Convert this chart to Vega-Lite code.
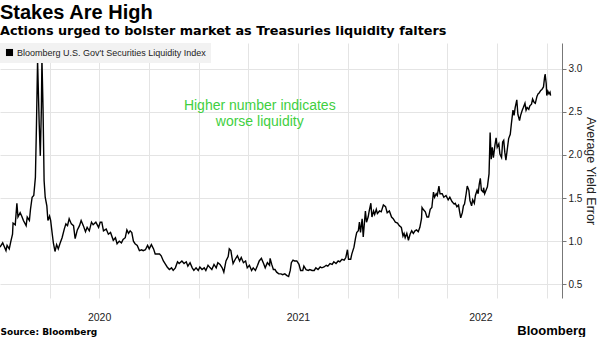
{
  "$schema": "https://vega.github.io/schema/vega-lite/v6.json",
  "background": "white",
  "padding": {"left": 0, "top": 3, "right": 0, "bottom": 0},
  "title": {
    "text": "Stakes Are High",
    "subtitle": "Actions urged to bolster market as Treasuries liquidity falters",
    "anchor": "start",
    "font": "Liberation Sans",
    "fontSize": 20,
    "fontWeight": "bold",
    "color": "#000",
    "subtitleFont": "DejaVu Sans",
    "subtitleFontSize": 12.8,
    "subtitleFontWeight": "bold",
    "subtitleColor": "#000",
    "subtitlePadding": 2,
    "offset": 5
  },
  "spacing": 0,
  "vconcat": [
    {
      "width": 562,
      "height": 255,
      "title": {
        "text": "Bloomberg",
        "orient": "bottom",
        "anchor": "end",
        "font": "Liberation Sans",
        "fontSize": 13,
        "fontWeight": "bold",
        "color": "#000",
        "offset": 0,
        "dx": -11,
        "dy": -12
      },
      "data": {
        "values": [
          {"date": "2020-01-01", "value": 0.93}, {"date": "2020-01-06", "value": 0.98}, {"date": "2020-01-08", "value": 0.95}, {"date": "2020-01-12", "value": 0.89}, {"date": "2020-01-14", "value": 0.95}, {"date": "2020-01-18", "value": 0.91}, {"date": "2020-01-21", "value": 1.0}, {"date": "2020-01-24", "value": 1.08}, {"date": "2020-01-25", "value": 1.21}, {"date": "2020-01-29", "value": 1.19},
          {"date": "2020-02-01", "value": 1.44}, {"date": "2020-02-03", "value": 1.28}, {"date": "2020-02-07", "value": 1.33}, {"date": "2020-02-10", "value": 1.29}, {"date": "2020-02-13", "value": 1.24}, {"date": "2020-02-18", "value": 1.18}, {"date": "2020-02-20", "value": 1.28}, {"date": "2020-02-24", "value": 1.24}, {"date": "2020-02-26", "value": 1.37}, {"date": "2020-02-29", "value": 1.51},
          {"date": "2020-03-03", "value": 1.53}, {"date": "2020-03-06", "value": 1.74}, {"date": "2020-03-08", "value": 2.36}, {"date": "2020-03-10", "value": 3.1}, {"date": "2020-03-13", "value": 2.36}, {"date": "2020-03-15", "value": 1.99}, {"date": "2020-03-17", "value": 2.55}, {"date": "2020-03-18", "value": 3.12}, {"date": "2020-03-20", "value": 2.55}, {"date": "2020-03-22", "value": 1.7}, {"date": "2020-03-24", "value": 1.51}, {"date": "2020-03-27", "value": 1.41}, {"date": "2020-03-29", "value": 1.24},
          {"date": "2020-04-01", "value": 1.29}, {"date": "2020-04-03", "value": 1.24}, {"date": "2020-04-06", "value": 1.08}, {"date": "2020-04-08", "value": 0.98}, {"date": "2020-04-11", "value": 0.88}, {"date": "2020-04-14", "value": 0.96}, {"date": "2020-04-17", "value": 0.91}, {"date": "2020-04-20", "value": 0.97}, {"date": "2020-04-24", "value": 1.04}, {"date": "2020-04-28", "value": 1.14},
          {"date": "2020-05-01", "value": 1.2}, {"date": "2020-05-04", "value": 1.18}, {"date": "2020-05-07", "value": 1.26}, {"date": "2020-05-11", "value": 1.2}, {"date": "2020-05-15", "value": 1.18}, {"date": "2020-05-18", "value": 1.03}, {"date": "2020-05-22", "value": 1.13}, {"date": "2020-05-26", "value": 1.18}, {"date": "2020-05-29", "value": 1.24},
          {"date": "2020-06-02", "value": 1.18}, {"date": "2020-06-06", "value": 1.11}, {"date": "2020-06-09", "value": 1.16}, {"date": "2020-06-13", "value": 1.12}, {"date": "2020-06-17", "value": 1.22}, {"date": "2020-06-20", "value": 1.19}, {"date": "2020-06-25", "value": 1.22}, {"date": "2020-06-30", "value": 1.16},
          {"date": "2020-07-03", "value": 1.22}, {"date": "2020-07-06", "value": 1.22}, {"date": "2020-07-09", "value": 1.12}, {"date": "2020-07-14", "value": 1.14}, {"date": "2020-07-18", "value": 1.08}, {"date": "2020-07-22", "value": 1.1}, {"date": "2020-07-27", "value": 1.01}, {"date": "2020-07-31", "value": 1.04},
          {"date": "2020-08-03", "value": 0.97}, {"date": "2020-08-07", "value": 1.0}, {"date": "2020-08-11", "value": 0.98}, {"date": "2020-08-14", "value": 1.02}, {"date": "2020-08-18", "value": 1.04}, {"date": "2020-08-21", "value": 1.13}, {"date": "2020-08-24", "value": 1.09}, {"date": "2020-08-27", "value": 1.12}, {"date": "2020-08-30", "value": 1.1},
          {"date": "2020-09-02", "value": 1.0}, {"date": "2020-09-05", "value": 0.97}, {"date": "2020-09-09", "value": 0.95}, {"date": "2020-09-13", "value": 0.89}, {"date": "2020-09-17", "value": 0.9}, {"date": "2020-09-20", "value": 0.89}, {"date": "2020-09-24", "value": 0.9}, {"date": "2020-09-28", "value": 0.95},
          {"date": "2020-10-01", "value": 0.91}, {"date": "2020-10-05", "value": 0.96}, {"date": "2020-10-09", "value": 0.91}, {"date": "2020-10-12", "value": 0.85}, {"date": "2020-10-16", "value": 0.85}, {"date": "2020-10-20", "value": 0.85}, {"date": "2020-10-23", "value": 0.83}, {"date": "2020-10-27", "value": 0.77}, {"date": "2020-10-31", "value": 0.73},
          {"date": "2020-11-03", "value": 0.7}, {"date": "2020-11-07", "value": 0.67}, {"date": "2020-11-11", "value": 0.69}, {"date": "2020-11-14", "value": 0.66}, {"date": "2020-11-18", "value": 0.69}, {"date": "2020-11-22", "value": 0.76}, {"date": "2020-11-25", "value": 0.74}, {"date": "2020-11-30", "value": 0.77},
          {"date": "2020-12-04", "value": 0.74}, {"date": "2020-12-08", "value": 0.76}, {"date": "2020-12-11", "value": 0.71}, {"date": "2020-12-15", "value": 0.75}, {"date": "2020-12-19", "value": 0.69}, {"date": "2020-12-22", "value": 0.66}, {"date": "2020-12-26", "value": 0.69}, {"date": "2020-12-30", "value": 0.66},
          {"date": "2021-01-02", "value": 0.7}, {"date": "2021-01-06", "value": 0.67}, {"date": "2021-01-10", "value": 0.69}, {"date": "2021-01-13", "value": 0.66}, {"date": "2021-01-17", "value": 0.72}, {"date": "2021-01-21", "value": 0.69}, {"date": "2021-01-24", "value": 0.67}, {"date": "2021-01-28", "value": 0.73},
          {"date": "2021-02-01", "value": 0.69}, {"date": "2021-02-04", "value": 0.75}, {"date": "2021-02-08", "value": 0.73}, {"date": "2021-02-12", "value": 0.69}, {"date": "2021-02-15", "value": 0.64}, {"date": "2021-02-19", "value": 0.77}, {"date": "2021-02-23", "value": 0.82}, {"date": "2021-02-25", "value": 0.91}, {"date": "2021-02-28", "value": 0.89},
          {"date": "2021-03-02", "value": 0.81}, {"date": "2021-03-04", "value": 0.74}, {"date": "2021-03-08", "value": 0.79}, {"date": "2021-03-12", "value": 0.83}, {"date": "2021-03-16", "value": 0.77}, {"date": "2021-03-19", "value": 0.81}, {"date": "2021-03-23", "value": 0.75}, {"date": "2021-03-27", "value": 0.77}, {"date": "2021-03-30", "value": 0.69},
          {"date": "2021-04-03", "value": 0.72}, {"date": "2021-04-07", "value": 0.66}, {"date": "2021-04-10", "value": 0.69}, {"date": "2021-04-14", "value": 0.66}, {"date": "2021-04-18", "value": 0.72}, {"date": "2021-04-21", "value": 0.77}, {"date": "2021-04-25", "value": 0.8}, {"date": "2021-04-29", "value": 0.74},
          {"date": "2021-05-02", "value": 0.69}, {"date": "2021-05-06", "value": 0.75}, {"date": "2021-05-10", "value": 0.72}, {"date": "2021-05-11", "value": 0.8}, {"date": "2021-05-14", "value": 0.73}, {"date": "2021-05-17", "value": 0.67}, {"date": "2021-05-20", "value": 0.67}, {"date": "2021-05-23", "value": 0.64}, {"date": "2021-05-27", "value": 0.62}, {"date": "2021-05-31", "value": 0.62},
          {"date": "2021-06-03", "value": 0.61}, {"date": "2021-06-07", "value": 0.62}, {"date": "2021-06-11", "value": 0.6}, {"date": "2021-06-14", "value": 0.59}, {"date": "2021-06-17", "value": 0.66}, {"date": "2021-06-19", "value": 0.75}, {"date": "2021-06-22", "value": 0.78}, {"date": "2021-06-25", "value": 0.77}, {"date": "2021-06-29", "value": 0.77},
          {"date": "2021-07-03", "value": 0.73}, {"date": "2021-07-06", "value": 0.66}, {"date": "2021-07-10", "value": 0.66}, {"date": "2021-07-12", "value": 0.71}, {"date": "2021-07-16", "value": 0.67}, {"date": "2021-07-20", "value": 0.66}, {"date": "2021-07-23", "value": 0.67}, {"date": "2021-07-27", "value": 0.66}, {"date": "2021-07-31", "value": 0.66},
          {"date": "2021-08-03", "value": 0.69}, {"date": "2021-08-07", "value": 0.67}, {"date": "2021-08-11", "value": 0.7}, {"date": "2021-08-14", "value": 0.69}, {"date": "2021-08-18", "value": 0.7}, {"date": "2021-08-22", "value": 0.72}, {"date": "2021-08-25", "value": 0.71}, {"date": "2021-08-29", "value": 0.74},
          {"date": "2021-09-02", "value": 0.73}, {"date": "2021-09-05", "value": 0.76}, {"date": "2021-09-09", "value": 0.74}, {"date": "2021-09-13", "value": 0.77}, {"date": "2021-09-16", "value": 0.76}, {"date": "2021-09-20", "value": 0.79}, {"date": "2021-09-24", "value": 0.78}, {"date": "2021-09-27", "value": 0.81}, {"date": "2021-09-30", "value": 0.9},
          {"date": "2021-10-02", "value": 0.79}, {"date": "2021-10-06", "value": 0.79}, {"date": "2021-10-08", "value": 0.85}, {"date": "2021-10-12", "value": 0.93}, {"date": "2021-10-15", "value": 1.04}, {"date": "2021-10-17", "value": 1.1}, {"date": "2021-10-20", "value": 1.12}, {"date": "2021-10-22", "value": 1.22}, {"date": "2021-10-24", "value": 1.1}, {"date": "2021-10-27", "value": 1.26}, {"date": "2021-10-29", "value": 1.05}, {"date": "2021-10-31", "value": 1.2},
          {"date": "2021-11-02", "value": 1.35}, {"date": "2021-11-04", "value": 1.22}, {"date": "2021-11-07", "value": 1.28}, {"date": "2021-11-09", "value": 1.35}, {"date": "2021-11-12", "value": 1.44}, {"date": "2021-11-14", "value": 1.28}, {"date": "2021-11-17", "value": 1.35}, {"date": "2021-11-19", "value": 1.31}, {"date": "2021-11-22", "value": 1.37}, {"date": "2021-11-24", "value": 1.32}, {"date": "2021-11-28", "value": 1.35},
          {"date": "2021-12-01", "value": 1.34}, {"date": "2021-12-05", "value": 1.42}, {"date": "2021-12-09", "value": 1.4}, {"date": "2021-12-12", "value": 1.33}, {"date": "2021-12-16", "value": 1.35}, {"date": "2021-12-20", "value": 1.28}, {"date": "2021-12-23", "value": 1.26}, {"date": "2021-12-27", "value": 1.22}, {"date": "2021-12-31", "value": 1.21},
          {"date": "2022-01-03", "value": 1.18}, {"date": "2022-01-07", "value": 1.16}, {"date": "2022-01-10", "value": 1.06}, {"date": "2022-01-12", "value": 1.09}, {"date": "2022-01-14", "value": 1.04}, {"date": "2022-01-17", "value": 1.09}, {"date": "2022-01-20", "value": 1.01}, {"date": "2022-01-23", "value": 1.08}, {"date": "2022-01-26", "value": 1.12}, {"date": "2022-01-29", "value": 1.09},
          {"date": "2022-02-01", "value": 1.12}, {"date": "2022-02-04", "value": 1.13}, {"date": "2022-02-07", "value": 1.11}, {"date": "2022-02-10", "value": 1.16}, {"date": "2022-02-13", "value": 1.26}, {"date": "2022-02-14", "value": 1.39}, {"date": "2022-02-16", "value": 1.37}, {"date": "2022-02-20", "value": 1.34}, {"date": "2022-02-23", "value": 1.28}, {"date": "2022-02-26", "value": 1.28},
          {"date": "2022-03-01", "value": 1.37}, {"date": "2022-03-04", "value": 1.39}, {"date": "2022-03-07", "value": 1.57}, {"date": "2022-03-09", "value": 1.51}, {"date": "2022-03-12", "value": 1.55}, {"date": "2022-03-14", "value": 1.53}, {"date": "2022-03-17", "value": 1.64}, {"date": "2022-03-19", "value": 1.55}, {"date": "2022-03-23", "value": 1.55}, {"date": "2022-03-26", "value": 1.51}, {"date": "2022-03-30", "value": 1.53},
          {"date": "2022-04-03", "value": 1.48}, {"date": "2022-04-06", "value": 1.51}, {"date": "2022-04-10", "value": 1.46}, {"date": "2022-04-14", "value": 1.43}, {"date": "2022-04-16", "value": 1.44}, {"date": "2022-04-19", "value": 1.4}, {"date": "2022-04-22", "value": 1.42}, {"date": "2022-04-24", "value": 1.34}, {"date": "2022-04-26", "value": 1.27}, {"date": "2022-04-29", "value": 1.33},
          {"date": "2022-05-01", "value": 1.41}, {"date": "2022-05-03", "value": 1.43}, {"date": "2022-05-06", "value": 1.55}, {"date": "2022-05-08", "value": 1.64}, {"date": "2022-05-11", "value": 1.59}, {"date": "2022-05-13", "value": 1.47}, {"date": "2022-05-16", "value": 1.41}, {"date": "2022-05-18", "value": 1.48}, {"date": "2022-05-21", "value": 1.44}, {"date": "2022-05-23", "value": 1.53}, {"date": "2022-05-26", "value": 1.59}, {"date": "2022-05-28", "value": 1.55}, {"date": "2022-05-30", "value": 1.66},
          {"date": "2022-06-01", "value": 1.73}, {"date": "2022-06-03", "value": 1.59}, {"date": "2022-06-06", "value": 1.57}, {"date": "2022-06-07", "value": 1.62}, {"date": "2022-06-09", "value": 1.55}, {"date": "2022-06-12", "value": 1.6}, {"date": "2022-06-14", "value": 1.63}, {"date": "2022-06-17", "value": 1.78}, {"date": "2022-06-18", "value": 2.01}, {"date": "2022-06-19", "value": 2.26}, {"date": "2022-06-21", "value": 1.95}, {"date": "2022-06-23", "value": 2.09}, {"date": "2022-06-25", "value": 1.97}, {"date": "2022-06-28", "value": 2.12}, {"date": "2022-06-30", "value": 2.2},
          {"date": "2022-07-02", "value": 2.09}, {"date": "2022-07-05", "value": 2.13}, {"date": "2022-07-07", "value": 2.01}, {"date": "2022-07-10", "value": 1.97}, {"date": "2022-07-12", "value": 2.15}, {"date": "2022-07-14", "value": 2.17}, {"date": "2022-07-16", "value": 2.03}, {"date": "2022-07-18", "value": 1.94}, {"date": "2022-07-21", "value": 2.09}, {"date": "2022-07-23", "value": 2.19}, {"date": "2022-07-26", "value": 2.24}, {"date": "2022-07-28", "value": 2.36}, {"date": "2022-07-31", "value": 2.52},
          {"date": "2022-08-02", "value": 2.46}, {"date": "2022-08-04", "value": 2.55}, {"date": "2022-08-07", "value": 2.64}, {"date": "2022-08-09", "value": 2.47}, {"date": "2022-08-12", "value": 2.4}, {"date": "2022-08-14", "value": 2.46}, {"date": "2022-08-17", "value": 2.52}, {"date": "2022-08-19", "value": 2.55}, {"date": "2022-08-22", "value": 2.6}, {"date": "2022-08-24", "value": 2.52}, {"date": "2022-08-26", "value": 2.55}, {"date": "2022-08-29", "value": 2.53}, {"date": "2022-08-31", "value": 2.57},
          {"date": "2022-09-03", "value": 2.59}, {"date": "2022-09-05", "value": 2.65}, {"date": "2022-09-08", "value": 2.61}, {"date": "2022-09-10", "value": 2.6}, {"date": "2022-09-13", "value": 2.68}, {"date": "2022-09-15", "value": 2.71}, {"date": "2022-09-17", "value": 2.72}, {"date": "2022-09-20", "value": 2.75}, {"date": "2022-09-22", "value": 2.76}, {"date": "2022-09-25", "value": 2.79}, {"date": "2022-09-27", "value": 2.9}, {"date": "2022-09-28", "value": 2.94}, {"date": "2022-09-30", "value": 2.83},
          {"date": "2022-10-01", "value": 2.69}, {"date": "2022-10-03", "value": 2.74}, {"date": "2022-10-05", "value": 2.71}, {"date": "2022-10-07", "value": 2.73}, {"date": "2022-10-08", "value": 2.69}
        ]
      },
      "layer": [
        {
          "mark": {"type": "line", "color": "#000", "strokeWidth": 1.4, "clip": true},
          "encoding": {
            "x": {
              "field": "date",
              "type": "temporal",
              "scale": {
                "type": "utc",
                "domain": [
                  {"year": 2020, "month": 1, "date": 1, "utc": true},
                  {"year": 2022, "month": 10, "date": 29, "utc": true}
                ],
                "nice": false
              },
              "axis": {
                "title": "Source: Bloomberg",
                "titleAnchor": "start",
                "titleAlign": "left",
                "titleFont": "DejaVu Sans",
                "titleFontSize": 9,
                "titleFontWeight": "bold",
                "titleColor": "#000",
                "titlePadding": 5,
                "values": [
                  {"year": 2020, "month": 4, "date": 1, "utc": true},
                  {"year": 2020, "month": 7, "date": 1, "utc": true},
                  {"year": 2020, "month": 10, "date": 1, "utc": true},
                  {"year": 2021, "month": 1, "date": 1, "utc": true},
                  {"year": 2021, "month": 4, "date": 1, "utc": true},
                  {"year": 2021, "month": 7, "date": 1, "utc": true},
                  {"year": 2021, "month": 10, "date": 1, "utc": true},
                  {"year": 2022, "month": 1, "date": 1, "utc": true},
                  {"year": 2022, "month": 4, "date": 1, "utc": true},
                  {"year": 2022, "month": 6, "date": 1, "utc": true},
                  {"year": 2022, "month": 7, "date": 1, "utc": true},
                  {"year": 2022, "month": 10, "date": 1, "utc": true}
                ],
                "labelExpr": "(utcmonth(datum.value) == 6 && utcyear(datum.value) < 2022) || utcmonth(datum.value) == 5 ? utcFormat(datum.value, '%Y') : ''",
                "grid": true,
                "gridColor": "#e4e4e4",
                "gridOpacity": {"condition": {"test": "utcmonth(datum.value) == 5", "value": 0}, "value": 1},
                "ticks": false,
                "domain": false,
                "labelPadding": 14,
                "labelFont": "Liberation Sans",
                "labelFontSize": 10.5,
                "labelColor": "#222",
                "labelOverlap": false,
                "labelFlush": false
              }
            },
            "y": {
              "field": "value",
              "type": "quantitative",
              "scale": {"domain": [0.34, 3.3], "nice": false, "zero": false},
              "axis": {
                "orient": "right",
                "values": [0.5, 1, 1.5, 2, 2.5, 3],
                "format": ".1f",
                "title": "Average Yield Error",
                "titleFont": "Liberation Sans",
                "titleFontSize": 12.5,
                "titleFontWeight": "normal",
                "titleColor": "#222",
                "titleAngle": 90,
                "titlePadding": 2,
                "grid": true,
                "gridColor": "#e4e4e4",
                "domain": true,
                "domainColor": "#777",
                "tickColor": "#777",
                "tickSize": 4,
                "labelPadding": 2,
                "labelFont": "Liberation Sans",
                "labelFontSize": 10,
                "labelColor": "#222"
              }
            },
            "color": {
              "datum": "Bloomberg U.S. Gov't Securities Liquidity Index",
              "scale": {"range": ["#000"]},
              "legend": {
                "orient": "top-left",
                "offset": 0,
                "title": null,
                "fillColor": "#f2f2f2",
                "padding": 5,
                "symbolType": "square",
                "symbolSize": 50,
                "labelFont": "Liberation Sans",
                "labelFontSize": 9,
                "labelLimit": 400,
                "labelColor": "#222",
                "labelOffset": 3,
                "encode": {
                  "symbols": {"update": {"fill": {"value": "#000"}, "stroke": {"value": "#000"}, "strokeWidth": {"value": 0}}}
                }
              }
            }
          }
        },
        {
          "data": {"values": [{}]},
          "mark": {
            "type": "text",
            "text": ["Higher number indicates", "worse liquidity"],
            "color": "#3fcf3f",
            "font": "Liberation Sans",
            "fontSize": 14,
            "align": "center",
            "baseline": "middle",
            "lineHeight": 16
          },
          "encoding": {
            "x": {"datum": {"year": 2021, "month": 4, "date": 22, "utc": true}},
            "y": {"datum": 2.57}
          }
        }
      ]
    }
  ],
  "config": {
    "view": {"stroke": null},
    "font": "Liberation Sans"
  }
}
